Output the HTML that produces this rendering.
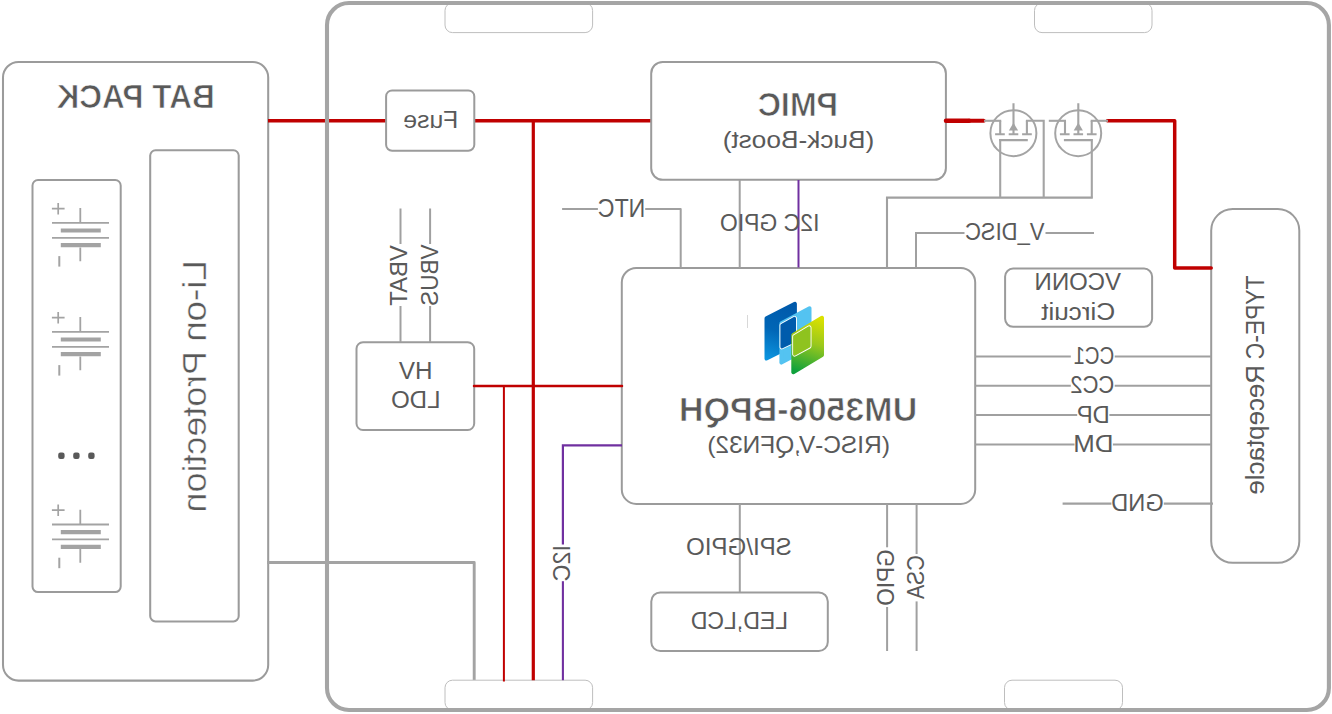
<!DOCTYPE html>
<html><head><meta charset="utf-8"><title>Block diagram</title>
<style>
html,body{margin:0;padding:0;background:#fff;}
svg{display:block;font-family:"Liberation Sans",sans-serif;}
</style></head><body>
<svg width="1332" height="714" viewBox="0 0 1332 714">
<rect width="1332" height="714" fill="#fff"/>
<rect x="3.0" y="61.9" width="265.2" height="618.7" rx="15.5" ry="15.5" fill="#fff" stroke="#9b9b9b" stroke-width="2.05"/>
<text transform="translate(214.75 108.14999999999999) scale(-0.9321 1)" font-size="33.87" font-weight="bold" fill="#595959" stroke="#fff" stroke-width="0.7" vector-effect="non-scaling-stroke">BAT PACK</text>
<rect x="32.5" y="180" width="88.2" height="412.1" rx="5.5" ry="5.5" fill="#fff" stroke="#9b9b9b" stroke-width="2"/>
<rect x="150.2" y="150.3" width="88.5" height="471.1" rx="5.3" ry="5.3" fill="#fff" stroke="#9b9b9b" stroke-width="2.05"/>
<text transform="translate(205.725 259.98) scale(-1 1) rotate(90) scale(1.0897 1)" font-size="33.79" fill="#595959" stroke="#fff" stroke-width="0.45" vector-effect="non-scaling-stroke">Li-on</text>
<text transform="translate(205.725 350.96) scale(-1 1) rotate(90) scale(1.0618 1)" font-size="33.79" fill="#595959" stroke="#fff" stroke-width="0.45" vector-effect="non-scaling-stroke">Protection</text>
<g stroke="#a3a3a3" fill="none">
<path d="M80.3 208.1 V222.9 M52 222.9 H109 M52 237.8 H109 M80.3 247.4 V261.2" stroke-width="1.8"/>
<path d="M60.8 230.5 H100.8 M60.8 245.2 H100.8" stroke-width="4.2"/>
<path d="M51.9 208.6 H64.6 M58.2 202.9 V214.4" stroke-width="1.7"/>
<path d="M59.3 256.1 V266.6" stroke-width="2"/>
</g>
<g stroke="#a3a3a3" fill="none">
<path d="M80.3 317.1 V331.9 M52 331.9 H109 M52 346.8 H109 M80.3 356.4 V370.2" stroke-width="1.8"/>
<path d="M60.8 339.5 H100.8 M60.8 354.2 H100.8" stroke-width="4.2"/>
<path d="M51.9 317.6 H64.6 M58.2 311.9 V323.4" stroke-width="1.7"/>
<path d="M59.3 365.1 V375.6" stroke-width="2"/>
</g>
<g stroke="#a3a3a3" fill="none">
<path d="M80.3 509.7 V524.5 M52 524.5 H109 M52 539.4 H109 M80.3 549.0 V562.8" stroke-width="1.8"/>
<path d="M60.8 532.1 H100.8 M60.8 546.8 H100.8" stroke-width="4.2"/>
<path d="M51.9 510.2 H64.6 M58.2 504.5 V516.0" stroke-width="1.7"/>
<path d="M59.3 557.7 V568.2" stroke-width="2"/>
</g>
<rect x="58.199999999999996" y="452.5" width="6.4" height="6.4" rx="2.2" fill="#595959"/>
<rect x="73.2" y="452.5" width="6.4" height="6.4" rx="2.2" fill="#595959"/>
<rect x="88.2" y="452.5" width="6.4" height="6.4" rx="2.2" fill="#595959"/>
<path d="M268 120.7 L652 120.7" fill="none" stroke="#c00000" stroke-width="3.6" />
<path d="M267 562.5 L474.2 562.5 L474.2 680.2" fill="none" stroke="#a3a3a3" stroke-width="2.9" stroke-linejoin="round"/>
<rect x="445" y="3" width="147.6" height="29.6" rx="7.5" ry="7.5" fill="#fff" stroke="#bebebe" stroke-width="1"/>
<rect x="1034.5" y="3" width="117.5" height="29.6" rx="7.5" ry="7.5" fill="#fff" stroke="#bebebe" stroke-width="1"/>
<rect x="445" y="680.2" width="147.6" height="29.8" rx="7.5" ry="7.5" fill="#fff" stroke="#bebebe" stroke-width="1"/>
<rect x="1004.5" y="680.2" width="118.0" height="29.8" rx="7.5" ry="7.5" fill="#fff" stroke="#bebebe" stroke-width="1"/>
<rect x="327" y="3.05" width="1001.9" height="706.9" rx="22" ry="22" fill="none" stroke="#a5a5a5" stroke-width="4.1"/>
<rect x="386.1" y="90.4" width="88.2" height="60.3" rx="6" ry="6" fill="#fff" stroke="#9b9b9b" stroke-width="2"/>
<text transform="translate(458.30 127.9) scale(-1.0010 1)" font-size="24.71" fill="#595959">Fuse</text>
<rect x="651.2" y="61.95" width="294.7" height="117.85" rx="11.5" ry="11.5" fill="#fff" stroke="#9b9b9b" stroke-width="2"/>
<text transform="translate(838.12 115.94999999999999) scale(-0.9632 1)" font-size="33.43" font-weight="bold" fill="#595959" stroke="#fff" stroke-width="0.7" vector-effect="non-scaling-stroke">PMIC</text>
<text transform="translate(874.19 147.5) scale(-1.0619 1)" font-size="24.71" fill="#595959">(Buck-Boost)</text>
<rect x="356.5" y="342.2" width="117.7" height="87.8" rx="6.5" ry="6.5" fill="#fff" stroke="#9b9b9b" stroke-width="2"/>
<text transform="translate(432.45 378.7) scale(-0.9767 1)" font-size="24.71" fill="#595959">HV</text>
<text transform="translate(440.44 407.8) scale(-0.9705 1)" font-size="24.71" fill="#595959">LDO</text>
<rect x="621.8" y="268" width="353.4" height="235.9" rx="14.5" ry="14.5" fill="#fff" stroke="#9b9b9b" stroke-width="2"/>
<text transform="translate(917.19 420.65000000000003) scale(-1.0181 1)" font-size="33.43" font-weight="bold" fill="#595959" stroke="#fff" stroke-width="0.7" vector-effect="non-scaling-stroke">UM3506-BPQH</text>
<text transform="translate(889.89 452.9) scale(-0.9906 1)" font-size="24.71" fill="#595959">(RISC-V,QFN32)</text>
<rect x="1005.1" y="268.6" width="147.0" height="58.2" rx="8" ry="8" fill="#fff" stroke="#9b9b9b" stroke-width="2"/>
<text transform="translate(1121.04 289.8) scale(-0.9690 1)" font-size="24.71" fill="#595959">VCONN</text>
<text transform="translate(1115.22 319.6) scale(-1.0584 1)" font-size="24.71" fill="#595959">Circuit</text>
<rect x="1211.2" y="209.05" width="88.1" height="353.7" rx="21.5" ry="21.5" fill="#fff" stroke="#9b9b9b" stroke-width="2"/>
<text transform="translate(1264.0 275.45) scale(-1 1) rotate(90) scale(0.9030 1)" font-size="25.29" fill="#595959">TYPE-C</text>
<text transform="translate(1264.0 364.95) scale(-1 1) rotate(90) scale(1.0251 1)" font-size="25.29" fill="#595959">Receptacle</text>
<rect x="651.3" y="592.4" width="176.5" height="58.6" rx="9" ry="9" fill="#fff" stroke="#9b9b9b" stroke-width="2"/>
<text transform="translate(788.06 628.8) scale(-0.9323 1)" font-size="24.71" fill="#595959">LED,LCD</text>
<path d="M533.3 120.7 L533.3 680.2" fill="none" stroke="#c00000" stroke-width="3.2" />
<path d="M474 385.95 L622 385.95" fill="none" stroke="#c00000" stroke-width="2.5" stroke-linecap="round"/>
<path d="M503.9 386 L503.9 681.4" fill="none" stroke="#c00000" stroke-width="2" />
<path d="M798.5 180 L798.5 267.5" fill="none" stroke="#7030a0" stroke-width="2" />
<path d="M622 445.3 L562.9 445.3 L562.9 544.6" fill="none" stroke="#7030a0" stroke-width="2.2" />
<path d="M562.9 581.2 L562.9 680.2" fill="none" stroke="#7030a0" stroke-width="2.1" />
<text transform="translate(570.0 544.98) scale(-1 1) rotate(90) scale(0.9418 1)" font-size="24.71" fill="#595959">I2C</text>
<path d="M562.1 209.1 L597.9 209.1" fill="none" stroke="#a0a0a0" stroke-width="2.0" />
<path d="M645.2 209.1 L680.7 209.1 L680.7 267.5" fill="none" stroke="#a0a0a0" stroke-width="2.0" stroke-linejoin="round"/>
<text transform="translate(645.32 217.1) scale(-0.9122 1)" font-size="25.29" fill="#595959">NTC</text>
<path d="M739.7 180 L739.7 267.5" fill="none" stroke="#a0a0a0" stroke-width="2.0" />
<text transform="translate(819.39 231.0) scale(-0.9282 1)" font-size="24.71" fill="#595959">I2C GPIO</text>
<path d="M887 267.5 L887 197.6 L1092.8 197.6" fill="none" stroke="#a0a0a0" stroke-width="2.1" />
<path d="M916 267.5 L916 233 L964.5 233" fill="none" stroke="#a0a0a0" stroke-width="2.0" />
<path d="M1045.5 233 L1094 233" fill="none" stroke="#a0a0a0" stroke-width="2.0" />
<text transform="translate(1044.52 239.7) scale(-0.8909 1)" font-size="24.71" fill="#595959">V_DISC</text>
<path d="M400.5 208.5 L400.5 244" fill="none" stroke="#a0a0a0" stroke-width="2.0" />
<path d="M400.5 306 L400.5 342" fill="none" stroke="#a0a0a0" stroke-width="2.0" />
<path d="M430.1 208.5 L430.1 244" fill="none" stroke="#a0a0a0" stroke-width="2.0" />
<path d="M430.1 306 L430.1 342" fill="none" stroke="#a0a0a0" stroke-width="2.0" />
<text transform="translate(407.3 245.16) scale(-1 1) rotate(90) scale(0.9661 1)" font-size="24.71" fill="#595959">VBAT</text>
<text transform="translate(438.0 244.57) scale(-1 1) rotate(90) scale(0.9106 1)" font-size="24.71" fill="#595959">VBUS</text>
<path d="M975.4 356.4 L1070.8 356.4" fill="none" stroke="#a0a0a0" stroke-width="2.0" />
<path d="M1114.7 356.4 L1211.3 356.4" fill="none" stroke="#a0a0a0" stroke-width="2.0" />
<text transform="translate(1114.23 363.8) scale(-0.8213 1)" font-size="24.71" fill="#595959">CC1</text>
<path d="M975.4 385.8 L1070.8 385.8" fill="none" stroke="#a0a0a0" stroke-width="2.0" />
<path d="M1114.7 385.8 L1211.3 385.8" fill="none" stroke="#a0a0a0" stroke-width="2.0" />
<text transform="translate(1114.31 393.1) scale(-0.8894 1)" font-size="24.71" fill="#595959">CC2</text>
<path d="M975.4 415.1 L1077.2 415.1" fill="none" stroke="#a0a0a0" stroke-width="2.0" />
<path d="M1109.4 415.1 L1211.3 415.1" fill="none" stroke="#a0a0a0" stroke-width="2.0" />
<text transform="translate(1109.82 422.7) scale(-0.9613 1)" font-size="24.71" fill="#595959">DP</text>
<path d="M975.4 444.4 L1074.5 444.4" fill="none" stroke="#a0a0a0" stroke-width="2.0" />
<path d="M1112.9 444.4 L1211.3 444.4" fill="none" stroke="#a0a0a0" stroke-width="2.0" />
<text transform="translate(1113.49 451.9) scale(-1.0435 1)" font-size="24.71" fill="#595959">DM</text>
<path d="M1062.6 503.6 L1111.4 503.6" fill="none" stroke="#a0a0a0" stroke-width="2.2" />
<path d="M1163.8 503.6 L1213 503.6" fill="none" stroke="#a0a0a0" stroke-width="2.2" />
<text transform="translate(1163.69 510.9) scale(-0.9543 1)" font-size="24.71" fill="#595959">GND</text>
<path d="M739.8 504 L739.8 592" fill="none" stroke="#a0a0a0" stroke-width="2.0" />
<text transform="translate(791.72 555.2) scale(-0.9736 1)" font-size="24.71" fill="#595959">SPI/GPIO</text>
<path d="M887.1 504 L887.1 547.3" fill="none" stroke="#a0a0a0" stroke-width="2.0" />
<path d="M887.1 607 L887.1 651" fill="none" stroke="#a0a0a0" stroke-width="2.0" />
<path d="M916.6 504 L916.6 554" fill="none" stroke="#a0a0a0" stroke-width="2.0" />
<path d="M916.6 601.4 L916.6 651" fill="none" stroke="#a0a0a0" stroke-width="2.0" />
<text transform="translate(894.2 549.56) scale(-1 1) rotate(90) scale(0.9114 1)" font-size="24.71" fill="#595959">GPIO</text>
<text transform="translate(924.2 555.22) scale(-1 1) rotate(90) scale(0.8646 1)" font-size="24.71" fill="#595959">CSA</text>
<path d="M946 120.8 L969 120.8" fill="none" stroke="#c00000" stroke-width="4.5" stroke-linecap="round"/>
<path d="M969 120.8 L983.7 120.8" fill="none" stroke="#c00000" stroke-width="4" stroke-linecap="round"/>
<path d="M1107.4 120.8 L1174.7 120.8 L1174.7 268.1 L1211.2 268.1" fill="none" stroke="#c00000" stroke-width="3.5" stroke-linejoin="round" stroke-linecap="round"/>
<circle cx="1013.4" cy="133.15" r="23" fill="none" stroke="#a4a4a4" stroke-width="2"/>
<path d="M1013.5 103.2 V134.3 M995.1 134.3 H1004.8 M1008.6999999999999 134.3 H1018.3 M1022.1 134.3 H1031.8 M1000.1999999999999 134.3 V120.8 M1026.9 134.3 V120.8 M999.1 140.1 H1027.8" fill="none" stroke="#a4a4a4" stroke-width="2.1"/>
<path d="M1013.5 122.8 L1008.9 130.6 H1018.1 Z" fill="#a4a4a4"/>
<circle cx="1078.2" cy="133.15" r="23" fill="none" stroke="#a4a4a4" stroke-width="2"/>
<path d="M1078.3 103.2 V134.3 M1059.9 134.3 H1069.6000000000001 M1073.5 134.3 H1083.1000000000001 M1086.9 134.3 H1096.6000000000001 M1065.0 134.3 V120.8 M1091.7 134.3 V120.8 M1063.9 140.1 H1092.6000000000001" fill="none" stroke="#a4a4a4" stroke-width="2.1"/>
<path d="M1078.3 122.8 L1073.7 130.6 H1082.9 Z" fill="#a4a4a4"/>
<path d="M984 120.8 L1001.2 120.8" fill="none" stroke="#a4a4a4" stroke-width="2.1" />
<path d="M1025.9 120.8 L1043.7 120.8 L1043.7 197.6" fill="none" stroke="#a4a4a4" stroke-width="2.1" />
<path d="M1000.2 139.1 L1000.2 197.6" fill="none" stroke="#a4a4a4" stroke-width="2.1" />
<path d="M1048.8 120.8 L1066 120.8" fill="none" stroke="#a4a4a4" stroke-width="2.1" />
<path d="M1090.7 120.8 L1108 120.8" fill="none" stroke="#a4a4a4" stroke-width="2.1" />
<path d="M1091.8 139.1 L1091.8 197.6" fill="none" stroke="#a4a4a4" stroke-width="2.1" />
<defs>
<linearGradient id="gb" gradientUnits="userSpaceOnUse" x1="790" y1="304" x2="768" y2="360"><stop offset="0" stop-color="#0059aa"/><stop offset="0.5" stop-color="#0066b6"/><stop offset="1" stop-color="#0c96e0"/></linearGradient>
<linearGradient id="gg" gradientUnits="userSpaceOnUse" x1="820" y1="318" x2="802" y2="373"><stop offset="0" stop-color="#dbe100"/><stop offset="0.45" stop-color="#9ac81c"/><stop offset="1" stop-color="#0fa13c"/></linearGradient>
</defs>
<g stroke-linejoin="round">
<path d="M766.5 318.4 L794.9 303.9 V344.2 L766.5 358.5 Z" fill="url(#gb)" stroke="url(#gb)" stroke-width="4"/>
<path d="M781.4 323.2 L809.5 308.3 V347.7 L781.4 362.6 Z" fill="#54c3f1" stroke="#54c3f1" stroke-width="4"/>
<path d="M781.9 325.3 L794.5 318.4 V340.9 L781.9 346.9 Z" fill="#fff" stroke="#fff" stroke-width="4.8"/>
<path d="M781.9 325.3 L794.5 318.4 V340.9 L781.9 346.9 Z" fill="#005bac" stroke="#005bac" stroke-width="3"/>
<path d="M793.3 335 L822 317.8 V355 L793.3 372.2 Z" fill="url(#gg)" stroke="url(#gg)" stroke-width="4"/>
<path d="M794.6 336.65 L809.1 327.85 V346.3 L794.6 354.2 Z" fill="#fff" stroke="#fff" stroke-width="4.8"/>
<path d="M794.6 336.65 L809.1 327.85 V346.3 L794.6 354.2 Z" fill="#8fc31f" stroke="#8fc31f" stroke-width="3"/>
</g>
<path d="M747.5 315 V328" stroke="#d8d8d8" stroke-width="1" fill="none"/>
</svg>
</body></html>
